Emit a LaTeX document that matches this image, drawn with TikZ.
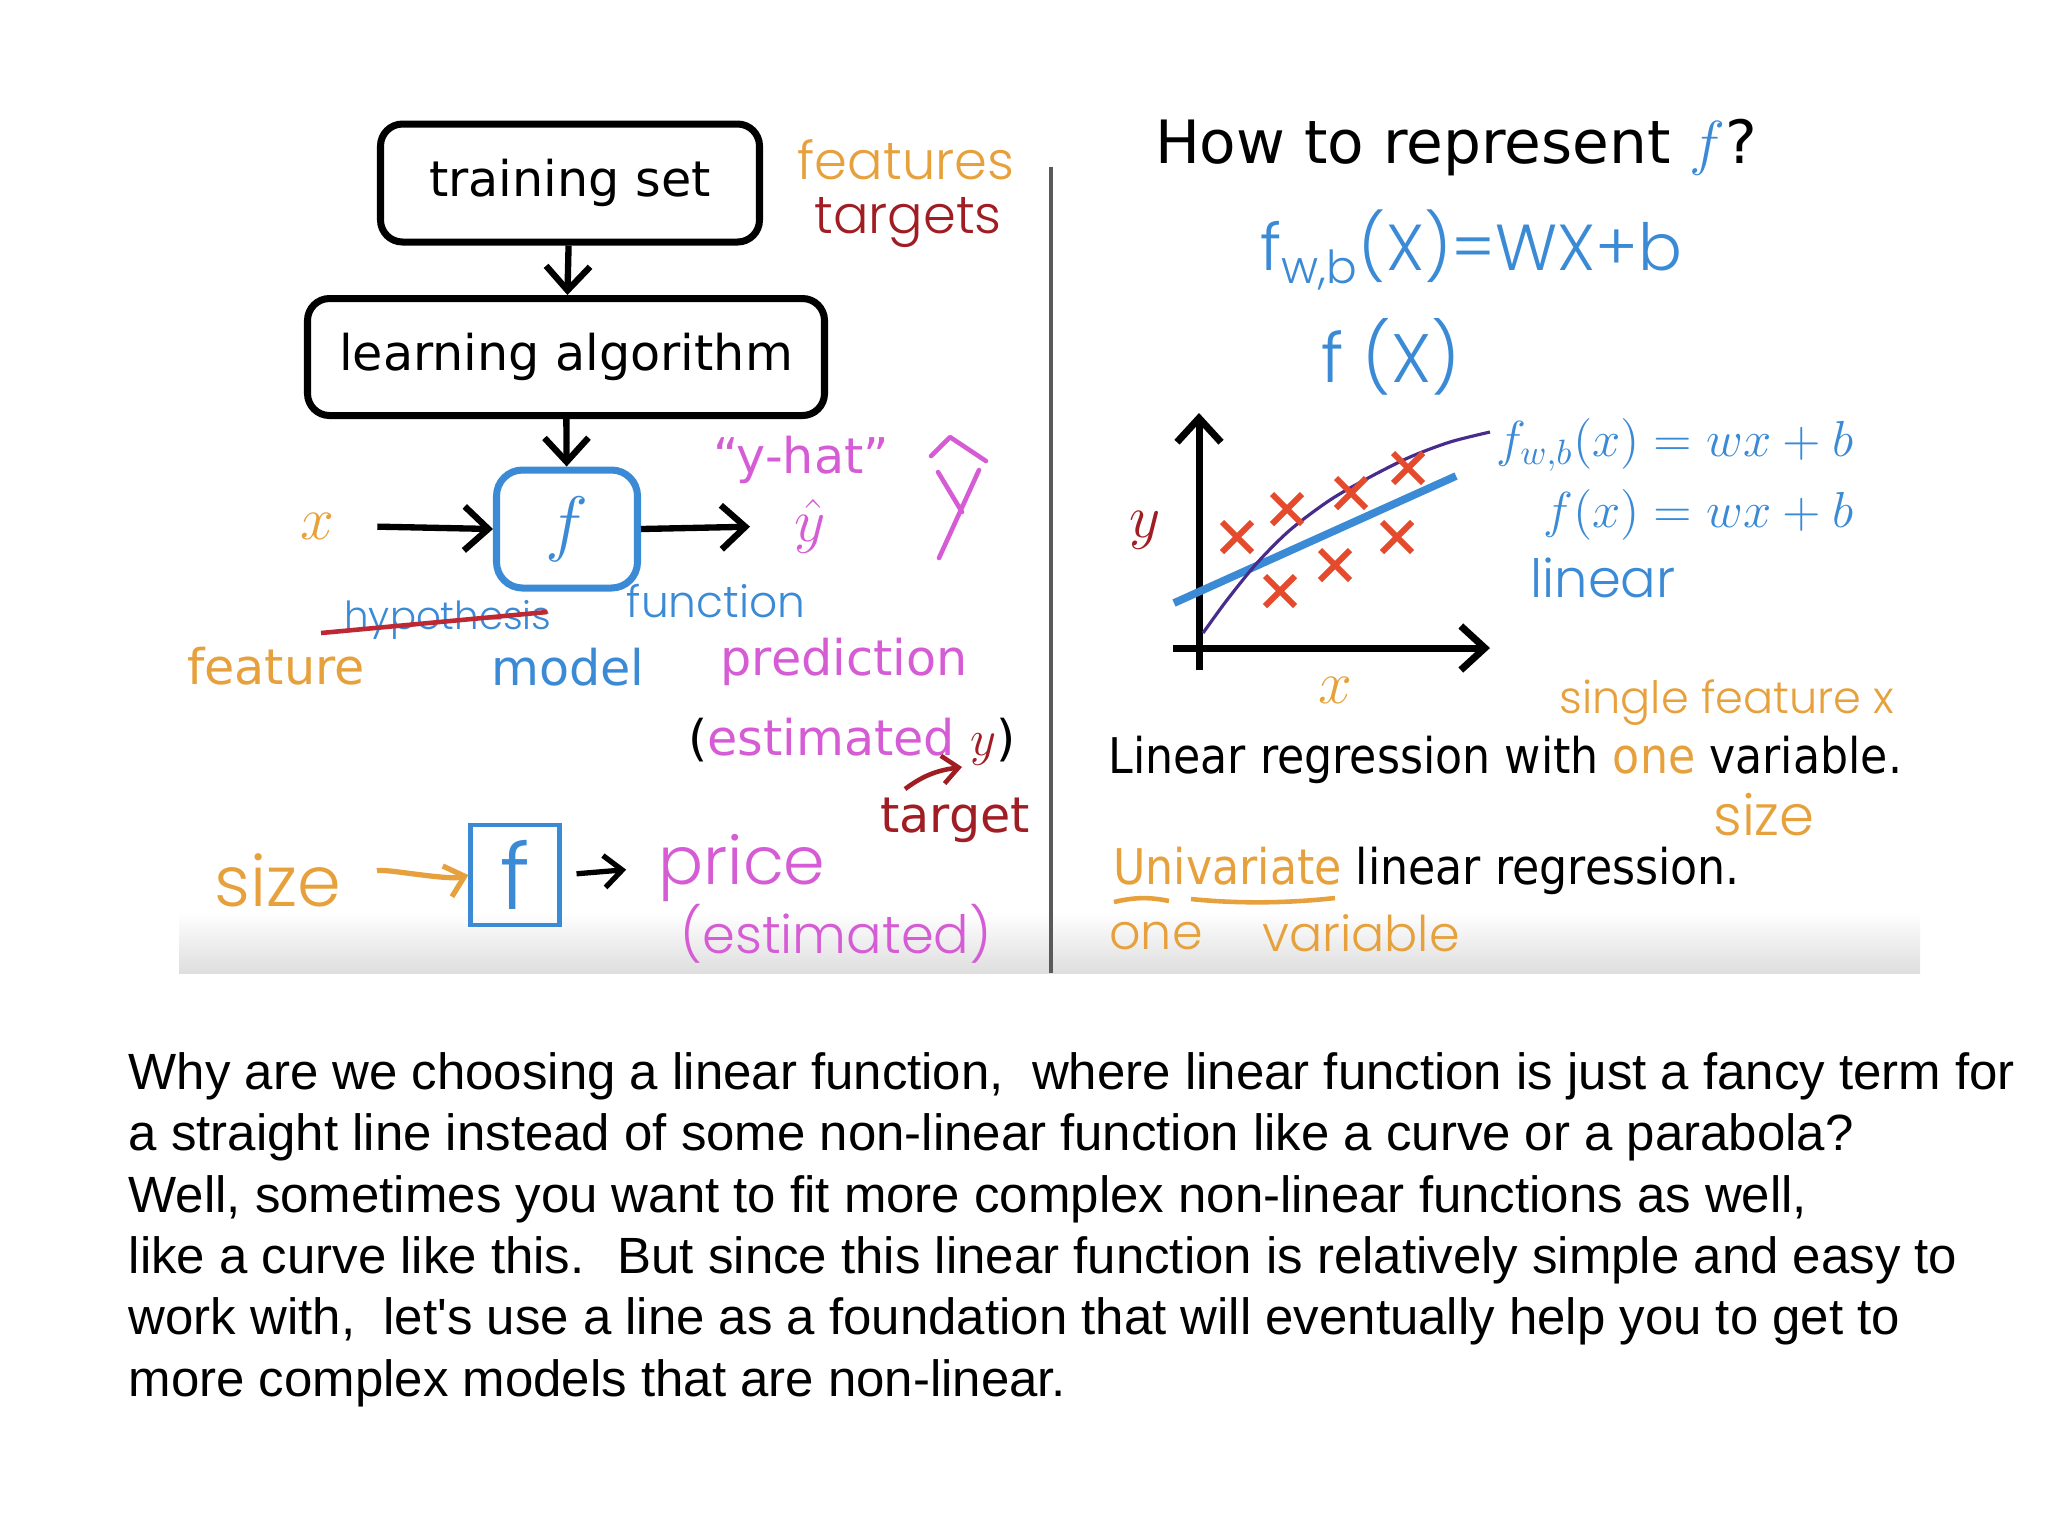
\documentclass[tikz,border=0pt]{standalone}
\usepackage{fontspec}
\usetikzlibrary{arrows.meta,positioning}
\newfontfamily\slidefont{DejaVu Sans}
\newfontfamily\slidecond[FakeStretch=0.9]{DejaVu Sans}
\newfontfamily\notefont{Liberation Sans}
\newfontfamily\handfont[UprightFont={* Light}]{Poppins}
\newcommand{\fsz}[1]{\fontsize{#1}{#1}\selectfont}
\definecolor{featorange}{RGB}{231,161,60}
\definecolor{fblue}{RGB}{58,138,214}
\definecolor{predmag}{RGB}{214,92,214}
\definecolor{targred}{RGB}{160,30,35}
\definecolor{xred}{RGB}{229,74,44}
\definecolor{curvepurple}{RGB}{72,44,140}
\definecolor{strikered}{RGB}{190,40,50}

\begin{document}
\begin{tikzpicture}[x=0.1mm,y=-0.1mm,
  box/.style={draw, line width=2pt, rounded corners=2.2mm, font=\slidefont\fsz{14}},
  flow/.style={-{Straight Barb[length=2.4mm,width=4.4mm]}, line width=1.8pt},
  slide/.style={font=\slidefont\fsz{14}},
  hand/.style={font=\handfont\fsz{#1}},
  cross/.style={xred, line width=1.7pt},
  note/.style={font=\notefont\fsz{14.5}, anchor=base west, inner sep=0pt}]
  \useasboundingbox (0,0) rectangle (2048,1536);
  \fill[white] (0,0) rectangle (2048,1536);
  \shade[top color=white, bottom color=black!13] (179,912) rectangle (1920,973);
  \draw[black!65, line width=1.2pt] (1051,167) -- (1051,973);

  % left: learning flow
  \node[box, minimum width=37.9mm, minimum height=11.8mm] (train) at (570,183) {training set};
  \node[box, minimum width=51.7mm, minimum height=11.7mm] (learn) at (566,357) {learning algorithm};
  \node[draw=fblue, line width=2pt, rounded corners=2.6mm, minimum width=14.1mm,
        minimum height=11.8mm, text=fblue, font=\fsz{22}] (fbox) at (567,529) {$f$};
  \node[text=featorange, font=\fsz{17}] (xin) at (317,526) {$x$};
  \node[text=predmag, font=\fsz{17}] (yhat) at (810,526) {$\hat{y}$};
  \draw[flow] (train) -- (learn);
  \draw[flow] (learn) -- (fbox);
  \draw[flow, shorten <=3.1mm] (xin.east) -- (fbox.west);
  \draw[flow, shorten >=3.2mm] (fbox.east) -- (yhat.west);
  \node[slide, text=predmag] (yhatq) at (801,460) {“y-hat”};
  \draw[predmag, line width=1.3pt, line cap=round, line join=round]
    (931,456) -- (950,437) -- (968,449) -- (986,461)
    (938,472) -- (962,512) (979,470) -- (939,558);

  \node[hand=11, text=fblue] (hypo) at (448,620) {hypothesis};
  \draw[strikered, line width=1.3pt] (321,633) -- (547,612);
  \node[hand=12.5, text=fblue] (func) at (716,601) {function};
  \node[slide, text=featorange] (feat) at (276,666) {feature};
  \node[slide, text=fblue] (model) at (568,667) {model};
  \node[slide, text=predmag] (pred) at (844,662) {prediction};
  \node[slide] (estim) at (852,742) {(\textcolor{predmag}{estimated} \textcolor{targred}{$y$})};
  \node[slide, text=targred] (target) at (955,820) {target};
  \coordinate (ytail) at (905,789);
  \coordinate (ytip) at (962,767);
  \draw[targred, line width=1.3pt, -{Straight Barb[length=1.6mm,width=2.8mm]}]
    (ytail) .. controls (925,774) and (940,770) .. (ytip);

  % left: size -> f -> price
  \node[hand=20, text=featorange] (size) at (278,880) {size};
  \node[draw=fblue, line width=1.2pt, minimum width=8.9mm, minimum height=10mm,
        inner sep=0pt, hand=26, text=fblue] (fsmall) at (515,875) {f};
  \node[hand=19, text=predmag] (price) at (742,868) {price};
  \node[hand=15, text=predmag] (priceest) at (836,934) {(estimated)};
  \draw[featorange, line width=1.5pt, -{Straight Barb[length=1.8mm,width=3.2mm]}, shorten <=2.5mm]
    (size.east) .. controls +(30,-12) and +(-20,6) .. (fsmall.west);
  \draw[line width=1.5pt, -{Straight Barb[length=1.8mm,width=3.2mm]}, shorten <=1.5mm, shorten >=2mm]
    (fsmall.east) -- (price.west);

  % features / targets
  \node[hand=15, text=featorange] (feats) at (906,160) {features};
  \node[hand=15, text=targred] (targs) at (908,223) {targets};

  % right: how to represent f
  \node[font=\slidefont\fsz{17}] (title) at (1456,148) {How to represent \textcolor{fblue}{$f$}?};
  \node[hand=18.5, text=fblue] (fwbhand) at (1471,250) {f\textsubscript{w,b}(X)=WX+b};
  \node[hand=19.5, text=fblue] (fxhand) at (1391,357) {f (X)};

  % graph
  \draw[flow, line width=2pt] (1199,670) -- (1199,413);
  \draw[flow, line width=2pt] (1173,648) -- (1490,648);
  \node[text=targred, font=\fsz{17}] (ylab) at (1145,530) {$y$};
  \node[text=featorange, font=\fsz{16}] (xlab) at (1335,690) {$x$};
  \draw[fblue, line width=2.2pt] (1174,603) -- (1456,476);
  \draw[curvepurple, line width=0.9pt] plot[smooth] coordinates {(1203,633) (1227,600)
    (1257,563) (1290,530) (1330,500) (1370,477) (1410,457) (1450,442) (1490,432)};
  \foreach \cx/\cy in {1237/537, 1287/509, 1351/493, 1408/468, 1280/591, 1335/565, 1397/537}
    \draw[cross] (\cx-15,\cy-15) -- (\cx+15,\cy+15) (\cx-15,\cy+15) -- (\cx+15,\cy-15);
  \node[anchor=east, text=fblue, font=\fsz{14.3}] (fwb) at (1866,445) {$f_{w,b}(x) = wx + b$};
  \node[anchor=east, text=fblue, font=\fsz{14.3}] (fx) at (1866,515) {$f(x) = wx + b$};
  \node[hand=15, text=fblue] (lin) at (1603,578) {linear};

  % right: univariate
  \node[hand=12.7, text=featorange] (single) at (1727,703) {single feature x};
  \node[anchor=west, font=\slidecond\fsz{14}] (linreg) at (1096,760)
    {Linear regression with \textcolor{featorange}{one} variable.};
  \node[hand=16, text=featorange] (sizer) at (1764,815) {size};
  \node[anchor=west, font=\slidecond\fsz{14}] (univ) at (1101,871)
    {\textcolor{featorange}{Univariate} linear regression.};
  \draw[featorange, line width=1.3pt] (1114,902) .. controls (1135,897) and (1150,897) .. (1169,901);
  \draw[featorange, line width=1.3pt] (1191,899) .. controls (1240,904) and (1290,903) .. (1335,898);
  \node[hand=14, text=featorange] (onehand) at (1156,936) {one};
  \node[hand=14, text=featorange] (varhand) at (1361,933) {variable};

  % notes below the slide
  \node[note] (note1) at (128,1089) {Why are we choosing a linear function,~ where linear function is just a fancy term for};
  \node[note] (note2) at (128,1150) {a straight line instead of some non-linear function like a curve or a parabola?};
  \node[note] (note3) at (128,1212) {Well, sometimes you want to fit more complex non-linear functions as well,};
  \node[note] (note4) at (128,1273) {like a curve like this.~ But since this linear function is relatively simple and easy to};
  \node[note] (note5) at (128,1334) {work with,~ let\textquotesingle s use a line as a foundation that will eventually help you to get to};
  \node[note] (note6) at (128,1396) {more complex models that are non-linear.};
\end{tikzpicture}
\end{document}
